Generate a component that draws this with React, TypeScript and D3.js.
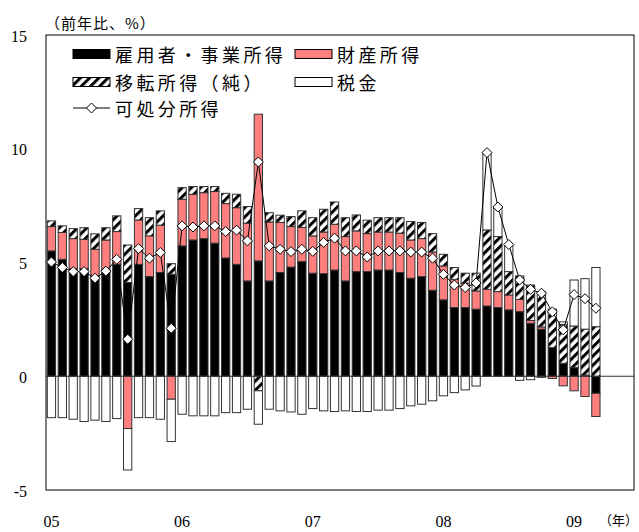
import { useEffect, useRef } from "react";
import * as d3 from "d3";

// 月 (05/01 = 2005年1月)
const months = [
  "05/01", "05/02", "05/03", "05/04", "05/05", "05/06", "05/07", "05/08", "05/09", "05/10", "05/11", "05/12",
  "06/01", "06/02", "06/03", "06/04", "06/05", "06/06", "06/07", "06/08", "06/09", "06/10", "06/11", "06/12",
  "07/01", "07/02", "07/03", "07/04", "07/05", "07/06", "07/07", "07/08", "07/09", "07/10", "07/11", "07/12",
  "08/01", "08/02", "08/03", "08/04", "08/05", "08/06", "08/07", "08/08", "08/09", "08/10", "08/11", "08/12",
  "09/01", "09/02", "09/03",
];
// 軸の余白分（データなし）
const emptyMonths = ["09/04", "09/05", "09/06"];

// 雇用者・事業所得
const employment = [
  5.51, 5.14, 4.73, 4.73, 4.41, 4.65, 4.92, 4.12, 4.92, 4.38, 4.56, 4.48,
  5.73, 5.99, 6.05, 5.85, 5.2, 4.92, 4.19, 5.07, 4.19, 4.56, 4.8, 5.04,
  4.53, 4.51, 4.67, 4.19, 4.6, 4.6, 4.67, 4.67, 4.56, 4.31, 4.38, 3.78,
  3.36, 3.02, 3.02, 2.95, 3.09, 3.02, 2.92, 2.84, 2.33, 2.07, 1.26, 0.57,
  0.38, 0.05, -0.75,
];
// 財産所得
const property = [
  1.07, 1.18, 1.32, 1.29, 1.17, 1.34, 1.44, -2.3, 1.95, 1.79, 2.08, -1.01,
  2.05, 2.01, 2.02, 2.27, 2.39, 2.49, 2.54, 6.45, 2.59, 2.2, 1.78, 1.5,
  1.64, 1.83, 2.01, 1.95, 1.79, 1.67, 1.67, 1.67, 1.73, 1.68, 1.67, 1.68,
  1.49, 1.24, 1.07, 0.8, 0.73, 0.7, 0.65, 0.54, 0.12, 0.1, -0.1, -0.42,
  -0.64, -0.89, -1.02,
];
// 移転所得（純）
const transfers = [
  0.25, 0.29, 0.44, 0.51, 0.68, 0.54, 0.69, 1.65, 0.5, 0.8, 0.63, 0.47,
  0.51, 0.34, 0.27, 0.22, 0.45, 0.59, 0.73, -0.64, 0.41, 0.32, 0.44, 0.73,
  0.8, 1.0, 0.98, 0.83, 0.7, 0.59, 0.63, 0.63, 0.68, 0.81, 0.71, 0.81,
  0.51, 0.52, 0.44, 0.78, 2.61, 2.42, 1.03, 1.03, 1.56, 1.54, 1.69, 1.7,
  1.83, 2.02, 2.18,
];
// 税金
const taxes = [
  -1.82, -1.82, -1.89, -1.99, -1.93, -1.99, -1.86, -1.82, -1.82, -1.82, -1.89, -1.86,
  -1.67, -1.74, -1.74, -1.74, -1.6, -1.6, -1.45, -1.47, -1.45, -1.52, -1.57, -1.67,
  -1.42, -1.52, -1.55, -1.52, -1.55, -1.55, -1.49, -1.49, -1.42, -1.3, -1.23, -1.08,
  -0.86, -0.72, -0.6, -0.43, 3.4, 1.3, 1.19, -0.18, -0.15, -0.05, 0, 0.12,
  2.02, 2.22, 2.6,
];
// 可処分所得
const disposable = [
  5.02, 4.78, 4.6, 4.6, 4.31, 4.62, 5.14, 1.63, 5.61, 5.19, 5.44, 2.11,
  6.61, 6.56, 6.61, 6.61, 6.36, 6.42, 5.95, 9.42, 5.73, 5.58, 5.48, 5.58,
  5.49, 5.88, 6.07, 5.51, 5.51, 5.24, 5.51, 5.51, 5.51, 5.46, 5.46, 5.19,
  4.48, 4.01, 3.9, 4.1, 9.83, 7.44, 5.79, 4.23, 3.82, 3.65, 2.83, 2.04,
  3.59, 3.41, 2.99,
];

const yearTicks = ["05/01", "06/01", "07/01", "08/01", "09/01"];
const yearLabels = ["05", "06", "07", "08", "09"];
const yTicks = [-5, 0, 5, 10, 15];

const seriesKeys = ["emp", "prop", "trans", "tax"];
const seriesFill: Record<string, string> = {
  emp: "#000000",
  prop: "#ff7f7f",
  trans: "url(#hatch)",
  tax: "#ffffff",
};

const serif = "'Liberation Serif', 'Times New Roman', serif";
const cjk = "'Noto Sans CJK JP', 'Noto Sans CJK SC', sans-serif";

export default function App() {
  const svgRef = useRef<SVGSVGElement>(null);

  useEffect(() => {
    if (!svgRef.current) return;
    const svg = d3.select(svgRef.current);
    svg.selectAll("*").remove();

    const left = 46;
    const right = 634;
    const top = 35;
    const bottom = 490;

    const x = d3
      .scaleBand<string>()
      .domain([...months, ...emptyMonths])
      .range([left, right])
      .paddingInner(0.24)
      .paddingOuter(0.12);
    const y = d3.scaleLinear().domain([-5, 15]).range([bottom, top]);

    // 斜線パターン
    const defs = svg.append("defs");
    const pat = defs
      .append("pattern")
      .attr("id", "hatch")
      .attr("patternUnits", "userSpaceOnUse")
      .attr("width", 6.5)
      .attr("height", 6.5)
      .attr("patternTransform", "rotate(45)");
    pat.append("rect").attr("width", 6.5).attr("height", 6.5).attr("fill", "#fff");
    pat.append("rect").attr("width", 3).attr("height", 6.5).attr("fill", "#000");

    const rows = months.map((m, i) => ({
      month: m,
      emp: employment[i],
      prop: property[i],
      trans: transfers[i],
      tax: taxes[i],
    }));

    const stacked = d3
      .stack<any>()
      .keys(seriesKeys)
      .offset(d3.stackOffsetDiverging)(rows);

    // 棒
    stacked.forEach((s) => {
      svg
        .append("g")
        .selectAll("rect")
        .data(s.filter((d) => d[1] !== d[0]))
        .enter()
        .append("rect")
        .attr("x", (d) => x(d.data.month) as number)
        .attr("width", x.bandwidth())
        .attr("y", (d) => y(Math.max(d[0], d[1])))
        .attr("height", (d) => Math.abs(y(d[0]) - y(d[1])))
        .attr("fill", seriesFill[s.key])
        .attr("stroke", "#333")
        .attr("stroke-width", 1);
    });

    // 0 の線
    svg
      .append("line")
      .attr("x1", left)
      .attr("x2", right)
      .attr("y1", y(0))
      .attr("y2", y(0))
      .attr("stroke", "#333")
      .attr("stroke-width", 1);

    // 可処分所得の線
    const cx = (m: string) => (x(m) as number) + x.bandwidth() / 2;
    const line = d3
      .line<number>()
      .x((_d, i) => cx(months[i]))
      .y((d) => y(d));
    svg
      .append("path")
      .datum(disposable)
      .attr("fill", "none")
      .attr("stroke", "#000")
      .attr("stroke-width", 1)
      .attr("d", line);

    const diamond = "M0,-5L5,0L0,5L-5,0Z";
    svg
      .append("g")
      .selectAll("path")
      .data(disposable)
      .enter()
      .append("path")
      .attr("d", diamond)
      .attr("transform", (d, i) => `translate(${cx(months[i])},${y(d)})`)
      .attr("fill", "#fff")
      .attr("stroke", "#000")
      .attr("stroke-width", 1);

    // 枠
    svg
      .append("rect")
      .attr("x", left)
      .attr("y", top)
      .attr("width", right - left)
      .attr("height", bottom - top)
      .attr("fill", "none")
      .attr("stroke", "#000")
      .attr("stroke-width", 1);

    // y 軸ラベル
    svg
      .append("g")
      .selectAll("text")
      .data(yTicks)
      .enter()
      .append("text")
      .attr("x", 27)
      .attr("y", (d) => y(d) + 1)
      .attr("text-anchor", "end")
      .attr("dominant-baseline", "central")
      .style("font-family", serif)
      .style("font-size", "16px")
      .text((d) => d);

    // x 軸ラベル
    svg
      .append("g")
      .selectAll("text")
      .data(yearTicks)
      .enter()
      .append("text")
      .attr("x", (d) => cx(d))
      .attr("y", 521)
      .attr("text-anchor", "middle")
      .attr("dominant-baseline", "central")
      .style("font-family", serif)
      .style("font-size", "16px")
      .text((_d, i) => yearLabels[i]);

    svg
      .append("text")
      .attr("x", 638)
      .attr("y", 519)
      .attr("text-anchor", "end")
      .attr("dominant-baseline", "central")
      .style("font-family", cjk)
      .style("font-size", "13px")
      .text("（年）");

    svg
      .append("text")
      .attr("x", 45)
      .attr("y", 22)
      .attr("dominant-baseline", "central")
      .style("font-family", cjk)
      .style("font-size", "15px")
      .style("letter-spacing", "1px")
      .text("（前年比、%）");

    // 凡例
    const legend = svg.append("g");
    const boxItems = [
      { label: "雇用者・事業所得", fill: seriesFill.emp, lx: 73, ly: 54 },
      { label: "財産所得", fill: seriesFill.prop, lx: 295, ly: 54 },
      { label: "移転所得（純）", fill: seriesFill.trans, lx: 73, ly: 82 },
      { label: "税金", fill: seriesFill.tax, lx: 295, ly: 82 },
    ];
    boxItems.forEach((it) => {
      legend
        .append("rect")
        .attr("x", it.lx)
        .attr("y", it.ly - 4.5)
        .attr("width", 37)
        .attr("height", 9)
        .attr("fill", it.fill)
        .attr("stroke", "#000")
        .attr("stroke-width", 1);
      legend
        .append("text")
        .attr("x", it.lx + 42)
        .attr("y", it.ly)
        .attr("dominant-baseline", "central")
        .style("font-family", cjk)
        .style("font-size", "18px")
        .style("letter-spacing", "3.4px")
        .text(it.label);
    });
    legend
      .append("line")
      .attr("x1", 73)
      .attr("x2", 110)
      .attr("y1", 108)
      .attr("y2", 108)
      .attr("stroke", "#000");
    legend
      .append("path")
      .attr("d", diamond)
      .attr("transform", "translate(91.5,108)")
      .attr("fill", "#fff")
      .attr("stroke", "#000");
    legend
      .append("text")
      .attr("x", 115)
      .attr("y", 108)
      .attr("dominant-baseline", "central")
      .style("font-family", cjk)
      .style("font-size", "18px")
      .style("letter-spacing", "3.4px")
      .text("可処分所得");
  }, []);

  return (
    <svg
      ref={svgRef}
      width={639}
      height={532}
      style={{ position: "absolute", left: 0, top: 0, background: "#fff" }}
    />
  );
}
